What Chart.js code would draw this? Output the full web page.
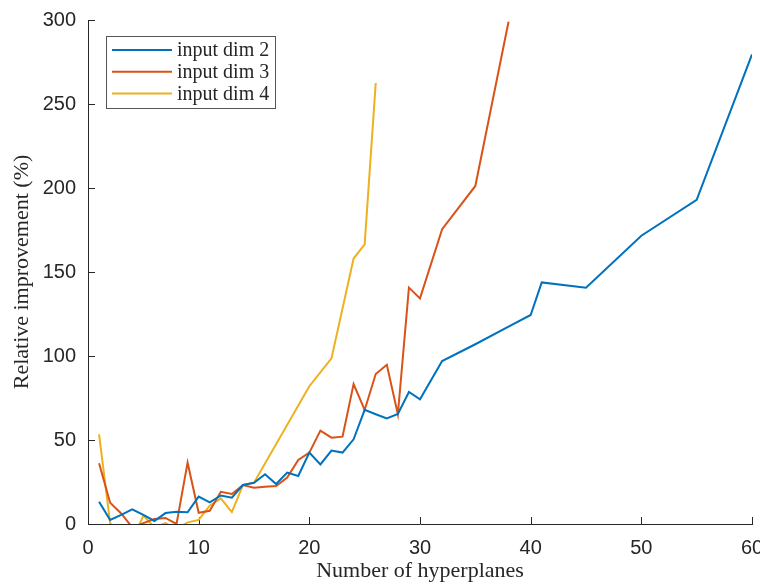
<!DOCTYPE html>
<html>
<head>
<meta charset="utf-8">
<script src="https://cdn.jsdelivr.net/npm/chart.js@4"></script>
<style>
  body { margin: 0; background: #fff; }
  canvas { display: block; }
</style>
</head>
<body>
<canvas id="chart" width="760" height="584"></canvas>
<script>
// hyperplanes (x) and relative improvement in % (y), per input dimension
const planesDim2 = [1, 2, 3, 4, 5, 6, 7, 8, 9, 10, 11, 12, 13, 14, 15, 16, 17, 18, 19, 20,
  21, 22, 23, 24, 25, 26, 27, 28, 29, 30, 32, 35, 38, 40, 41, 45, 50, 55, 60];
const improvDim2 = [13.3, 2.4, 5.4, 8.7, 5.4, 1.8, 6.5, 7.3, 7, 16.3, 12.9, 17, 15.7, 23.2, 24.5, 29.6, 23.8, 30.6, 28.6, 42.5,
  35.5, 43.7, 42.5, 50.4, 67.9, 65.3, 62.9, 65.5, 78.6, 74.2, 97, 107, 117.5, 124.4, 143.8, 140.7, 171.6, 192.9, 279.5];

const planesDim3 = [1, 2, 3, 4, 5, 6, 7, 8, 9, 10, 11, 12, 13, 14, 15, 16, 17, 18, 19, 20,
  21, 22, 23, 24, 25, 26, 27, 28, 29, 30, 32, 35, 38];
const improvDim3 = [36.1, 12.7, 6.3, -2, 0.5, 3, 3.6, 0, 36.5, 6.7, 7.9, 19.2, 17.9, 23.2, 21.6, 22.2, 22.6, 27.6, 38.1, 42.5,
  55.6, 51.4, 52, 83.3, 67.9, 89.3, 94.8, 65.3, 140.7, 134.3, 175.5, 201.2, 299];

const planesDim4 = [1, 2, 3, 4, 5, 6, 7, 8, 9, 10, 11, 12, 13, 14, 15, 20, 22, 24, 25, 26];
const improvDim4 = [53.4, 0.5, -8, -10, 5, -2, 0.5, -3, 1, 2.4, 10.9, 15.3, 7.1, 23.2, 24.6, 82, 98.6, 158, 166.5, 262.5];

const seriesLabels = ['input dim 2', 'input dim 3', 'input dim 4'];
const seriesColors = ['#0072BD', '#D95319', '#EDB120'];

const xTicks = [0, 10, 20, 30, 40, 50, 60];
const yTicks = [0, 50, 100, 150, 200, 250, 300];

const axisColor = '#262626';
const sansFont = '"Liberation Sans", Arial, sans-serif';
const serifFont = '"Liberation Serif", "Times New Roman", serif';

const toPoints = (xs, ys) => xs.map((x, i) => ({ x, y: ys[i] }));

// MATLAB style ticks pointing into the axes
const innerTicks = {
  id: 'innerTicks',
  beforeDatasetsDraw(chart) {
    const { ctx, chartArea, scales: { x, y } } = chart;
    ctx.save();
    ctx.strokeStyle = axisColor;
    ctx.lineWidth = 1;
    ctx.beginPath();
    x.ticks.forEach(t => {
      const px = Math.round(x.getPixelForValue(t.value)) + 0.5;
      ctx.moveTo(px, chartArea.bottom);
      ctx.lineTo(px, chartArea.bottom - 7);
    });
    y.ticks.forEach(t => {
      const py = Math.round(y.getPixelForValue(t.value)) + 0.5;
      ctx.moveTo(chartArea.left, py);
      ctx.lineTo(chartArea.left + 7, py);
    });
    ctx.stroke();
    ctx.restore();
  }
};

// legend box in the upper left of the plot
const boxLegend = {
  id: 'boxLegend',
  afterDraw(chart) {
    const { ctx, chartArea } = chart;
    const left = chartArea.left + 18;
    const top = chartArea.top + 16;
    const w = 169, h = 72;
    ctx.save();
    ctx.fillStyle = '#fff';
    ctx.fillRect(left, top, w, h);
    ctx.strokeStyle = '#555';
    ctx.lineWidth = 1;
    ctx.strokeRect(left + 0.5, top + 0.5, w, h);
    ctx.font = '20px ' + serifFont;
    ctx.textBaseline = 'middle';
    chart.data.datasets.forEach((ds, i) => {
      const ly = top + 14 + i * 21.7;
      ctx.strokeStyle = ds.borderColor;
      ctx.lineWidth = 2;
      ctx.beginPath();
      ctx.moveTo(left + 6, ly);
      ctx.lineTo(left + 66, ly);
      ctx.stroke();
      ctx.fillStyle = axisColor;
      ctx.fillText(ds.label, left + 71, ly + 1);
    });
    ctx.restore();
  }
};

new Chart(document.getElementById('chart'), {
  type: 'line',
  data: {
    datasets: [
      { label: seriesLabels[0], data: toPoints(planesDim2, improvDim2), borderColor: seriesColors[0] },
      { label: seriesLabels[1], data: toPoints(planesDim3, improvDim3), borderColor: seriesColors[1] },
      { label: seriesLabels[2], data: toPoints(planesDim4, improvDim4), borderColor: seriesColors[2] }
    ]
  },
  options: {
    responsive: false,
    animation: false,
    layout: { padding: { left: 0, top: 20, right: 8, bottom: 0 } },
    elements: {
      line: { borderWidth: 2, tension: 0, fill: false },
      point: { radius: 0, hoverRadius: 0 }
    },
    datasets: { line: { clip: 0 } },
    plugins: { legend: { display: false }, tooltip: { enabled: false } },
    scales: {
      x: {
        type: 'linear',
        min: 0,
        max: 60,
        afterBuildTicks: scale => { scale.ticks = xTicks.map(v => ({ value: v })); },
        afterFit: scale => {
          scale.height = 60;
          scale.paddingLeft = 0;
          scale.paddingRight = 0;
        },
        grid: { display: false },
        border: { display: true, color: axisColor, width: 1 },
        ticks: { color: axisColor, font: { family: sansFont, size: 20 }, padding: 4, maxRotation: 0 },
        title: {
          display: true,
          text: 'Number of hyperplanes',
          color: axisColor,
          font: { family: serifFont, size: 22 },
          padding: { top: 0, bottom: 0 }
        }
      },
      y: {
        type: 'linear',
        min: 0,
        max: 300,
        afterBuildTicks: scale => { scale.ticks = yTicks.map(v => ({ value: v })); },
        afterFit: scale => {
          scale.width = 88;
          scale.paddingTop = 0;
          scale.paddingBottom = 0;
        },
        grid: { display: false },
        border: { display: true, color: axisColor, width: 1 },
        ticks: { color: axisColor, font: { family: sansFont, size: 20 }, padding: 4 },
        title: {
          display: true,
          text: 'Relative improvement (%)',
          color: axisColor,
          font: { family: serifFont, size: 22 },
          padding: { top: 9, bottom: 0 }
        }
      }
    }
  },
  plugins: [innerTicks, boxLegend]
});
</script>
</body>
</html>
